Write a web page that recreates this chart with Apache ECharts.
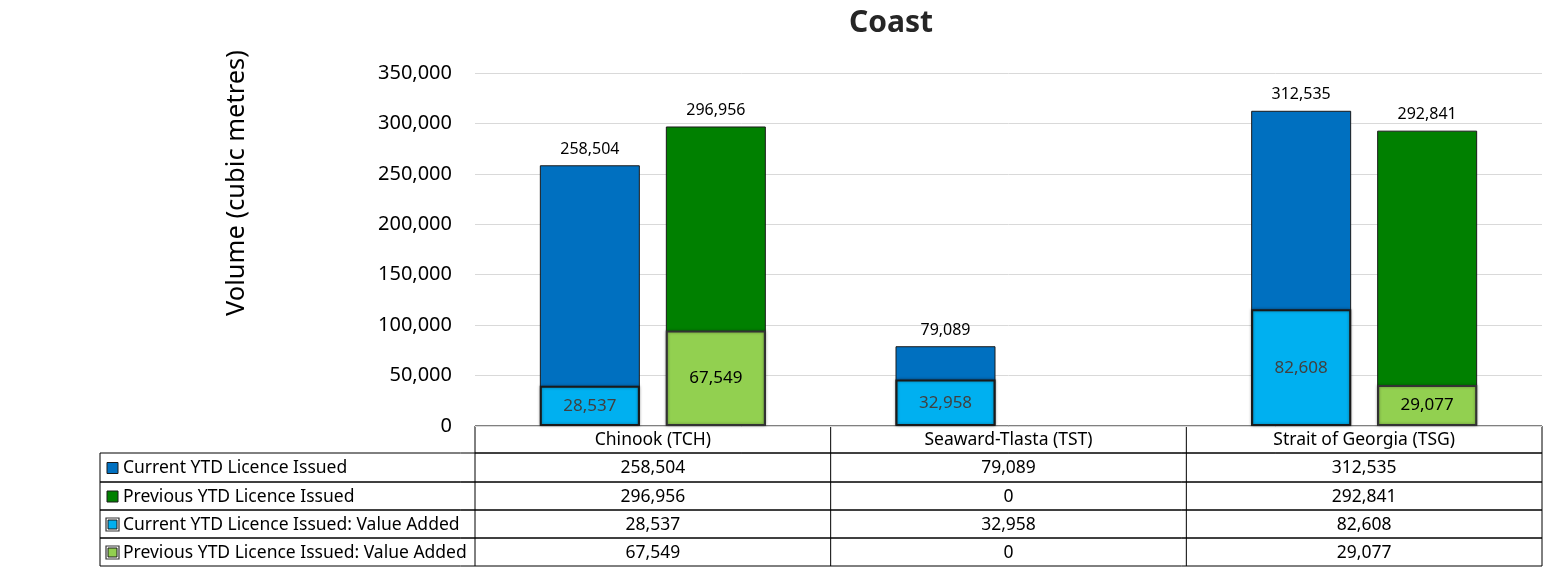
<!DOCTYPE html>
<html><head><meta charset="utf-8">
<script src="https://cdn.jsdelivr.net/npm/echarts@6/dist/echarts.min.js"></script>
<style>html,body{margin:0;padding:0;background:#fff}#c{width:1559px;height:571px}</style>
</head><body><div id="c"></div>
<script>
const categories = ['Chinook (TCH)', 'Seaward-Tlasta (TST)', 'Strait of Georgia (TSG)'];
const currentYTD = [258504, 79089, 312535];
const previousYTD = [296956, 0, 292841];
const currentVA = [28537, 32958, 82608];
const previousVA = [67549, 0, 29077];
const seriesNames = ['Current YTD Licence Issued', 'Previous YTD Licence Issued', 'Current YTD Licence Issued: Value Added', 'Previous YTD Licence Issued: Value Added'];
const yTicks = [0, 50000, 100000, 150000, 200000, 250000, 300000, 350000];

const colors = ['#0070C0', '#008000', '#00B0F0', '#92D050'];
const fmt = v => v.toLocaleString('en-US');
const FONT = 'Noto Sans';

const G = {left: 475, right: 17, top: 73, bottom: 145};
const W = 1559, H = 571;
const plotR = W - G.right, plotB = H - G.bottom;
const tableLeft = 100;
const rowH = [27, 29, 28, 28, 28];
const TF = '17.5px "' + FONT + '"';

const chart = echarts.init(document.getElementById('c'), null, {renderer: 'canvas'});

function buildTable() {
  const els = [];
  const colW = (plotR - G.left) / categories.length;
  let y = plotB;
  els.push({type: 'rect', shape: {x: G.left, y: y, width: plotR - G.left, height: rowH[0]}, style: {fill: 'none', stroke: '#000', lineWidth: 1}});
  categories.forEach((c, i) => {
    if (i > 0) els.push({type: 'line', shape: {x1: G.left + colW * i, y1: y, x2: G.left + colW * i, y2: y + rowH[0]}, style: {stroke: '#000', lineWidth: 1}});
    els.push({type: 'text', style: {text: c, x: G.left + colW * (i + 0.5), y: y + rowH[0] / 2 + 1, align: 'center', verticalAlign: 'middle', font: TF, fill: '#000'}});
  });
  y += rowH[0];
  const rows = [currentYTD, previousYTD, currentVA, previousVA];
  rows.forEach((arr, r) => {
    const h = rowH[r + 1];
    els.push({type: 'rect', shape: {x: tableLeft, y: y, width: plotR - tableLeft, height: h}, style: {fill: 'none', stroke: '#000', lineWidth: 1}});
    els.push({type: 'line', shape: {x1: G.left, y1: y, x2: G.left, y2: y + h}, style: {stroke: '#000', lineWidth: 1}});
    for (let i = 1; i < categories.length; i++) {
      els.push({type: 'line', shape: {x1: G.left + colW * i, y1: y, x2: G.left + colW * i, y2: y + h}, style: {stroke: '#000', lineWidth: 1}});
    }
    if (r < 2) {
      els.push({type: 'rect', shape: {x: 107, y: y + h / 2 - 5, width: 11, height: 11}, style: {fill: colors[r], stroke: '#1a1a1a', lineWidth: 1}});
    } else {
      els.push({type: 'rect', shape: {x: 106, y: y + h / 2 - 6, width: 13, height: 13}, style: {fill: '#fff', stroke: '#333', lineWidth: 1.2}});
      els.push({type: 'rect', shape: {x: 108, y: y + h / 2 - 4, width: 9, height: 9}, style: {fill: colors[r], stroke: '#1a1a1a', lineWidth: 1}});
    }
    els.push({type: 'text', style: {text: seriesNames[r], x: 123, y: y + h / 2 + 1, align: 'left', verticalAlign: 'middle', font: TF, fill: '#000'}});
    arr.forEach((v, i) => {
      els.push({type: 'text', style: {text: fmt(v), x: G.left + colW * (i + 0.5), y: y + h / 2 + 1, align: 'center', verticalAlign: 'middle', font: TF, fill: '#000'}});
    });
    y += h;
  });
  els.push({type: 'text', x: 237, y: 183, rotation: Math.PI / 2, style: {text: 'Volume (cubic metres)', x: 0, y: 0, align: 'center', verticalAlign: 'middle', font: '25.5px "' + FONT + '"', fill: '#000'}});
  return els;
}

const noZero = arr => arr.map(v => v === 0 ? {value: 0, itemStyle: {borderWidth: 0, opacity: 0}} : v);
const topLabel = {show: true, position: 'top', distance: 8, color: '#000', fontFamily: FONT, fontSize: 16, formatter: p => p.value ? fmt(p.value) : ''};

const option = {
  animation: false,
  title: {text: 'Coast', left: 886, top: 3, textAlign: 'center', textStyle: {fontFamily: FONT, fontSize: 30, fontWeight: 'bold', color: '#262626'}},
  grid: G,
  xAxis: [
    {type: 'category', data: categories, axisLine: {show: false}, axisTick: {show: false}, axisLabel: {show: false}},
    {type: 'category', data: categories, show: false}
  ],
  yAxis: [
    {type: 'value', min: 0, max: 350000, interval: 50000,
     axisLabel: {fontFamily: FONT, fontSize: 20, color: '#000', margin: 23, formatter: v => fmt(v)},
     splitLine: {lineStyle: {color: '#d9d9d9', width: 1}}, axisLine: {show: false}, axisTick: {show: false}},
    {type: 'value', min: 0, max: 250000, show: false, splitLine: {show: false}}
  ],
  series: [
    {name: seriesNames[0], type: 'bar', data: noZero(currentYTD), barWidth: 100, barGap: '26%', itemStyle: {color: colors[0], borderColor: '#1a1a1a', borderWidth: 1}, label: topLabel},
    {name: seriesNames[1], type: 'bar', data: noZero(previousYTD), barWidth: 100, barGap: '26%', itemStyle: {color: colors[1], borderColor: '#1a1a1a', borderWidth: 1}, label: topLabel},
    {name: seriesNames[2], type: 'bar', xAxisIndex: 1, yAxisIndex: 1, data: noZero(currentVA), barWidth: 100, barGap: '26%', z: 3,
     itemStyle: {color: colors[2], borderColor: '#1a1a1a', borderWidth: 2, shadowColor: 'rgba(0,0,0,0.35)', shadowBlur: 3},
     label: {show: true, position: 'inside', color: '#404040', fontFamily: FONT, fontSize: 17, formatter: p => p.value ? fmt(p.value) : ''}},
    {name: seriesNames[3], type: 'bar', xAxisIndex: 1, yAxisIndex: 1, data: noZero(previousVA), barWidth: 100, barGap: '26%', z: 3,
     itemStyle: {color: colors[3], borderColor: '#333', borderWidth: 2, shadowColor: 'rgba(0,0,0,0.35)', shadowBlur: 3},
     label: {show: true, position: 'inside', color: '#000', fontFamily: FONT, fontSize: 17, formatter: p => p.value ? fmt(p.value) : ''}}
  ],
  graphic: buildTable()
};
chart.setOption(option);
</script>
</body></html>
